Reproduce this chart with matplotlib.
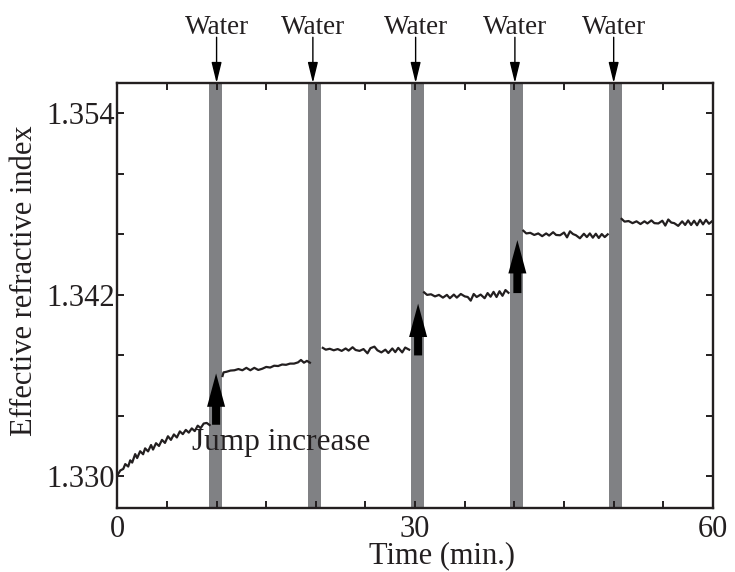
import numpy as np
import matplotlib
matplotlib.use("Agg")
import matplotlib.pyplot as plt
from matplotlib.patches import FancyArrowPatch, ArrowStyle

# data (time in min, effective refractive index)
t1 = [0.0, 0.3, 0.6, 0.8, 1.1, 1.3, 1.5, 1.8, 2.0, 2.3, 2.6, 2.8, 3.1, 3.4, 3.6, 3.9, 4.2,
      4.5, 4.8, 5.1, 5.4, 5.7, 6.0, 6.3, 6.6, 6.9, 7.2, 7.5, 7.8, 8.1, 8.4, 8.7, 9.0, 9.3]
n1 = [1.33005, 1.33038, 1.33048, 1.33080, 1.33064, 1.33105, 1.33090, 1.33146, 1.33120,
      1.33165, 1.33145, 1.33184, 1.33164, 1.33206, 1.33176, 1.33218, 1.33200, 1.33240,
      1.33220, 1.33264, 1.33240, 1.33276, 1.33256, 1.33296, 1.33278, 1.33306, 1.33288,
      1.33316, 1.33298, 1.33334, 1.33318, 1.33348, 1.33352, 1.33338]

t2 = [10.6, 10.7, 11.0, 11.4, 11.8, 12.2, 12.6, 13.0, 13.4, 13.8, 14.2, 14.6, 15.0, 15.4,
      15.8, 16.2, 16.6, 17.0, 17.4, 17.8, 18.2, 18.5, 18.8, 19.1, 19.4]
n2 = [1.33662, 1.33686, 1.33690, 1.33698, 1.33700, 1.33708, 1.33700, 1.33716, 1.33700,
      1.33716, 1.33702, 1.33710, 1.33722, 1.33718, 1.33730, 1.33728, 1.33738, 1.33736,
      1.33744, 1.33744, 1.33752, 1.33768, 1.33750, 1.33762, 1.33750]

t3 = [20.7, 21.0, 21.4, 21.8, 22.2, 22.6, 23.0, 23.3, 23.7, 24.0, 24.4, 24.8, 25.2, 25.5,
      25.9, 26.2, 26.6, 27.0, 27.3, 27.7, 28.0, 28.3, 28.7, 29.0, 29.4]
n3 = [1.33848, 1.33836, 1.33842, 1.33832, 1.33840, 1.33828, 1.33844, 1.33830, 1.33852,
      1.33834, 1.33828, 1.33840, 1.33812, 1.33846, 1.33856, 1.33832, 1.33818, 1.33836,
      1.33814, 1.33844, 1.33820, 1.33848, 1.33818, 1.33850, 1.33836]

t4 = [30.9, 31.2, 31.6, 32.0, 32.4, 32.8, 33.2, 33.5, 33.9, 34.2, 34.6, 35.0, 35.3, 35.6,
      35.9, 36.2, 36.6, 37.0, 37.3, 37.6, 37.9, 38.2, 38.5, 38.8, 39.1, 39.4]
n4 = [1.34215, 1.34198, 1.34202, 1.34188, 1.34198, 1.34180, 1.34198, 1.34176, 1.34200,
      1.34180, 1.34204, 1.34188, 1.34184, 1.34160, 1.34204, 1.34184, 1.34200, 1.34176,
      1.34210, 1.34186, 1.34218, 1.34184, 1.34222, 1.34192, 1.34230, 1.34212]

t5 = [40.9, 41.2, 41.6, 42.0, 42.4, 42.8, 43.2, 43.5, 43.9, 44.2, 44.6, 45.0, 45.3, 45.6,
      45.9, 46.2, 46.6, 47.0, 47.3, 47.6, 47.9, 48.2, 48.5, 48.8, 49.1, 49.4]
n5 = [1.34622, 1.34604, 1.34608, 1.34594, 1.34604, 1.34586, 1.34604, 1.34590, 1.34612,
      1.34594, 1.34592, 1.34610, 1.34578, 1.34618, 1.34600, 1.34592, 1.34572, 1.34602,
      1.34580, 1.34604, 1.34576, 1.34602, 1.34574, 1.34600, 1.34580, 1.34598]

t6 = [50.8, 51.1, 51.5, 51.9, 52.3, 52.7, 53.1, 53.4, 53.8, 54.1, 54.5, 54.9, 55.2, 55.5,
      55.8, 56.1, 56.5, 56.9, 57.2, 57.5, 57.8, 58.1, 58.4, 58.7, 59.0, 59.3, 59.6, 59.9]
n6 = [1.34700, 1.34682, 1.34686, 1.34672, 1.34684, 1.34666, 1.34684, 1.34670, 1.34690,
      1.34672, 1.34670, 1.34688, 1.34656, 1.34696, 1.34676, 1.34672, 1.34654, 1.34684,
      1.34660, 1.34690, 1.34660, 1.34688, 1.34658, 1.34694, 1.34664, 1.34694, 1.34668,
      1.34684]

segments = [(t1, n1), (t2, n2), (t3, n3), (t4, n4), (t5, n5), (t6, n6)]

water_bars = [9.9, 19.85, 30.2, 40.25, 50.2]
water_marks = [10.0, 19.7, 30.05, 40.05, 50.0]

# jump arrows: time, start, end
jump_t = [9.95, 30.3, 40.3]
jump_from = [1.3334, 1.33798, 1.3421]
jump_to = [1.33679, 1.3414, 1.34560]

xmin, xmax = 0, 60
ymin, ymax = 1.3279, 1.35598

plt.rcParams['font.family'] = ['Liberation Serif', 'DejaVu Serif']

def main():
    fig = plt.figure(figsize=(7.35, 5.72), dpi=100)
    ax = fig.add_axes([0.1596, 0.1119, 0.8104, 0.743])

    for xc in water_bars:
        ax.axvspan(xc - 0.65, xc + 0.65, color='#808184', lw=0, zorder=1)

    for t, n in segments:
        ax.plot(t, n, color='#231f20', lw=1.6, zorder=2)

    style = ArrowStyle.Simple(head_length=24, head_width=13, tail_width=5.8)
    for t, a, b in zip(jump_t, jump_from, jump_to):
        arr = FancyArrowPatch((t, a), (t, b), arrowstyle=style, mutation_scale=1,
                              color='black', lw=0, shrinkA=0, shrinkB=0, zorder=4)
        ax.add_patch(arr)

    ax.text(7.49, 1.33176, 'Jump increase', fontsize=22.5, ha='left', va='baseline',
            color='#231f20', zorder=5)

    for t in water_marks:
        ax.annotate('', xy=(t, ymax), xytext=(t, 1.35900),
                    arrowprops=dict(arrowstyle='-|>,head_length=0.9,head_width=0.22',
                                    mutation_scale=14, color='black', lw=1,
                                    shrinkA=0, shrinkB=0),
                    annotation_clip=False)
        ax.text(t, 1.35919, 'Water', fontsize=19.5, ha='center', va='baseline',
                color='#231f20', clip_on=False)

    ax.set_xlim(xmin, xmax)
    ax.set_ylim(ymin, ymax)

    xt = np.arange(0, 61, 5)
    ax.set_xticks(xt)
    ax.set_xticklabels([str(v) if v % 30 == 0 else '' for v in xt])
    yt = [1.330, 1.334, 1.338, 1.342, 1.346, 1.350, 1.354]
    ax.set_yticks(yt)
    ax.set_yticklabels(['%.3f' % v if i % 3 == 0 else '' for i, v in enumerate(yt)])

    ax.tick_params(direction='in', length=5, width=1.4, labelsize=22,
                   top=True, right=True, colors='#231f20')
    ax.tick_params(axis='x', pad=5)
    ax.tick_params(axis='y', pad=2)
    for s in ax.spines.values():
        s.set_linewidth(1.7)
        s.set_color('#231f20')

    fig.text(0.602, 0.0157, 'Time (min.)', fontsize=22, ha='center', va='baseline',
             color='#231f20')
    fig.text(25 / 735, 1 - 281 / 572, 'Effective refractive index', fontsize=22,
             rotation=90, ha='center', va='center', color='#231f20')

    fig.savefig("out.png", dpi=100)

if __name__ == "__main__":
    main()
